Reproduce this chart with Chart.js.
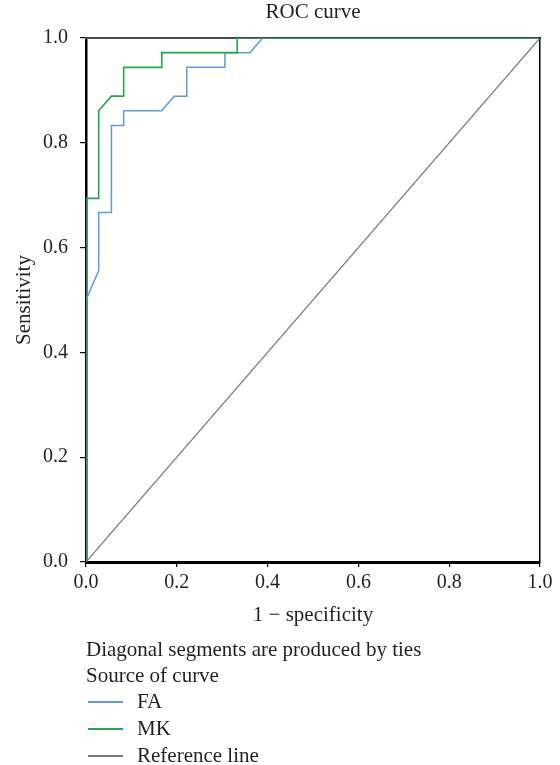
<!DOCTYPE html>
<html>
<head>
<meta charset="utf-8">
<title>ROC curve</title>
<script src="https://cdn.jsdelivr.net/npm/chart.js@4.4.1/dist/chart.umd.min.js"></script>
<style>
  html, body { margin: 0; padding: 0; background: #fff; }
  #roc { display: block; }
</style>
</head>
<body>
<canvas id="roc" width="560" height="765"></canvas>
<script>
// values
const faX  = [0, 0,   0.028, 0.028, 0.056, 0.056, 0.083, 0.083, 0.167, 0.194, 0.222, 0.222, 0.306, 0.306, 0.361, 0.389, 1];
const faY  = [0, 0.5, 0.556, 0.667, 0.667, 0.833, 0.833, 0.861, 0.861, 0.889, 0.889, 0.944, 0.944, 0.972, 0.972, 1,     1];
const mkX  = [0, 0,     0.028, 0.028, 0.056, 0.083, 0.083, 0.167, 0.167, 0.333, 0.333, 1];
const mkY  = [0, 0.694, 0.694, 0.861, 0.889, 0.889, 0.944, 0.944, 0.972, 0.972, 1,     1];
const refX = [0, 1];
const refY = [0, 1];
const tickValues = [0, 0.2, 0.4, 0.6, 0.8, 1.0];

const chartTitle = 'ROC curve';
const xTitle = '1 \u2212 specificity';
const yTitle = 'Sensitivity';
const noteText = 'Diagonal segments are produced by ties';
const sourceTitle = 'Source of curve';

const FONT = "'Liberation Serif', 'Times New Roman', serif";
const TEXT = '#231f20';

function pts(xs, ys) { return xs.map((x, i) => ({ x: x, y: ys[i] })); }
function setTicks(scale) { scale.ticks = tickValues.map(v => ({ value: v })); }

Chart.defaults.font.family = FONT;
Chart.defaults.font.size = 20;
Chart.defaults.color = TEXT;

// legend block under the axis, as in the SPSS output
const rocLegend = {
    id: 'rocLegend',
    afterDraw(chart) {
        const ctx = chart.ctx;
        ctx.save();
        ctx.font = '21px ' + FONT;
        ctx.fillStyle = TEXT;
        ctx.textBaseline = 'middle';
        ctx.textAlign = 'left';
        ctx.fillText(noteText, 86, 650);
        ctx.fillText(sourceTitle, 86, 676);
        chart.data.datasets.forEach((ds, i) => {
            const y = 702 + i * 27;
            ctx.strokeStyle = ds.borderColor;
            ctx.lineWidth = 2;
            ctx.beginPath();
            ctx.moveTo(88, y);
            ctx.lineTo(123, y);
            ctx.stroke();
            ctx.fillStyle = TEXT;
            ctx.fillText(ds.label, 137, y);
        });
        ctx.restore();
    }
};

const line = (label, xs, ys, color, order, width) => ({
    label: label,
    data: pts(xs, ys),
    borderColor: color,
    borderWidth: width,
    showLine: true,
    fill: false,
    tension: 0,
    pointRadius: 0,
    order: order
});

new Chart(document.getElementById('roc'), {
    type: 'scatter',
    data: {
        datasets: [
            line('FA', faX, faY, '#5f9bd6', 1, 1.5),
            line('MK', mkX, mkY, '#22a94c', 0, 1.6),
            line('Reference line', refX, refY, '#7a7a7a', 2, 1.2)
        ]
    },
    options: {
        responsive: false,
        animation: false,
        layout: { padding: { left: 0, right: 20, top: 0, bottom: 137 } },
        plugins: {
            legend: { display: false },
            tooltip: { enabled: false },
            title: { display: false }
        },
        scales: {
            x: {
                type: 'linear', position: 'bottom', min: 0, max: 1,
                afterBuildTicks: setTicks,
                grid: { drawOnChartArea: false, color: '#000', tickLength: 5, lineWidth: 1.2 },
                border: { color: '#000', width: 3 },
                ticks: { padding: 4, color: TEXT, maxRotation: 0, callback: v => v.toFixed(1) },
                title: { display: true, text: xTitle, color: TEXT, font: { size: 21 }, padding: { top: 0, bottom: 0 } },
                afterFit: s => { s.height = 66; }
            },
            y: {
                type: 'linear', position: 'left', min: 0, max: 1,
                afterBuildTicks: setTicks,
                grid: { drawOnChartArea: false, color: '#000', tickLength: 6, lineWidth: 1.2 },
                border: { color: '#000', width: 2.5 },
                ticks: { padding: 12, color: TEXT, callback: v => v.toFixed(1) },
                title: { display: true, text: yTitle, color: TEXT, font: { size: 21 }, padding: { top: 12, bottom: 0 } },
                afterFit: s => { s.width = 86; }
            },
            xTop: {
                type: 'linear', position: 'top', min: 0, max: 1,
                ticks: { display: false },
                grid: { display: false, drawTicks: false },
                border: { color: '#4a4a4a', width: 2 },
                title: { display: true, text: chartTitle, color: TEXT, font: { size: 21 }, padding: { top: 0, bottom: 0 } },
                afterFit: s => { s.height = 38; }
            },
            yRight: {
                type: 'linear', position: 'right', min: 0, max: 1,
                ticks: { display: false },
                grid: { display: false, drawTicks: false },
                border: { color: '#000', width: 1.5 },
                afterFit: s => { s.width = 0; }
            }
        }
    },
    plugins: [rocLegend]
});
</script>
</body>
</html>
